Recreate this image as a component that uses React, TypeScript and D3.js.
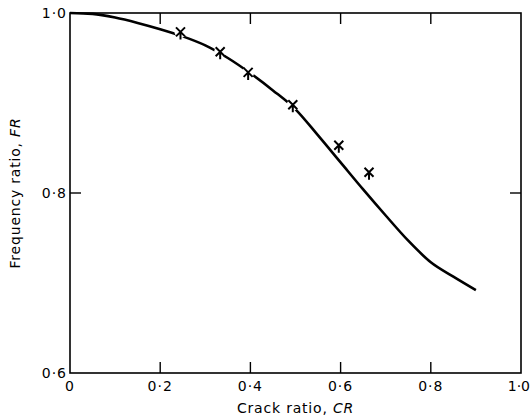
import React, { useEffect, useRef } from 'react';
import * as d3 from 'd3';

// fitted curve, frequency ratio vs crack ratio
const curveCR = [0, 0.05, 0.1, 0.15, 0.2, 0.25, 0.3, 0.35, 0.4, 0.45, 0.5, 0.55, 0.6, 0.65, 0.7, 0.75, 0.8, 0.85, 0.9];
const curveFR = [1.0, 0.999, 0.995, 0.989, 0.982, 0.974, 0.964, 0.950, 0.933, 0.914, 0.893, 0.864, 0.834, 0.804, 0.775, 0.747, 0.723, 0.707, 0.692];

// measured points
const pointCR = [0.245, 0.333, 0.395, 0.494, 0.596, 0.663];
const pointFR = [0.979, 0.957, 0.934, 0.898, 0.853, 0.823];

const xTicks = [0, 0.2, 0.4, 0.6, 0.8, 1.0];
const xTickLabels = ['0', '0·2', '0·4', '0·6', '0·8', '1·0'];
const yTicks = [0.6, 0.8, 1.0];
const yTickLabels = ['0·6', '0·8', '1·0'];

export default function App() {
  const svgRef = useRef<SVGSVGElement>(null);

  useEffect(() => {
    const width = 531;
    const height = 420;
    const margin = { top: 13, right: 10, bottom: 47, left: 70 };
    const font = '"DejaVu Sans", sans-serif';

    d3.select(svgRef.current).selectAll('*').remove();

    const svg = d3.select(svgRef.current)
      .attr('width', width)
      .attr('height', height);

    const x = d3.scaleLinear().domain([0, 1]).range([margin.left, width - margin.right]);
    const y = d3.scaleLinear().domain([0.6, 1.0]).range([height - margin.bottom, margin.top]);

    const x0 = x(0), x1 = x(1), y0 = y(0.6), y1 = y(1.0);
    const tickLen = 11;

    // frame
    svg.append('rect')
      .attr('x', x0)
      .attr('y', y1)
      .attr('width', x1 - x0)
      .attr('height', y0 - y1)
      .attr('fill', 'none')
      .attr('stroke', '#000')
      .attr('stroke-width', 1.6);

    // inward ticks, top and bottom
    const inner = xTicks.filter(d => d > 0 && d < 1);
    inner.forEach(d => {
      svg.append('line')
        .attr('x1', x(d)).attr('x2', x(d))
        .attr('y1', y0).attr('y2', y0 - tickLen)
        .attr('stroke', '#000').attr('stroke-width', 1.4);
      svg.append('line')
        .attr('x1', x(d)).attr('x2', x(d))
        .attr('y1', y1).attr('y2', y1 + tickLen)
        .attr('stroke', '#000').attr('stroke-width', 1.4);
    });

    // inward ticks, left and right
    yTicks.filter(d => d > 0.6 && d < 1.0).forEach(d => {
      svg.append('line')
        .attr('x1', x0).attr('x2', x0 + tickLen)
        .attr('y1', y(d)).attr('y2', y(d))
        .attr('stroke', '#000').attr('stroke-width', 1.4);
      svg.append('line')
        .attr('x1', x1).attr('x2', x1 - tickLen)
        .attr('y1', y(d)).attr('y2', y(d))
        .attr('stroke', '#000').attr('stroke-width', 1.4);
    });

    // tick labels (last one kept inside the picture)
    svg.selectAll('.xlab')
      .data(xTicks)
      .enter()
      .append('text')
      .attr('class', 'xlab')
      .attr('x', d => (d === 1 ? width - 1 : x(d)))
      .attr('y', y0 + 18)
      .attr('text-anchor', d => (d === 1 ? 'end' : 'middle'))
      .style('font-family', font)
      .style('font-size', '14px')
      .style('letter-spacing', d => (d === 1 ? '0px' : '1px'))
      .text((d, i) => xTickLabels[i]);

    svg.selectAll('.ylab')
      .data(yTicks)
      .enter()
      .append('text')
      .attr('class', 'ylab')
      .attr('x', x0 - 3)
      .attr('y', d => y(d) + 5)
      .attr('text-anchor', 'end')
      .style('font-family', font)
      .style('font-size', '14px')
      .style('letter-spacing', '1px')
      .text((d, i) => yTickLabels[i]);

    // axis titles
    const xt = svg.append('text')
      .attr('x', (x0 + x1) / 2)
      .attr('y', y0 + 40)
      .attr('text-anchor', 'middle')
      .style('font-family', font)
      .style('font-size', '14px')
      .style('letter-spacing', '0.8px');
    xt.append('tspan').text('Crack ratio, ');
    xt.append('tspan').style('font-style', 'italic').text('CR');

    const yt = svg.append('text')
      .attr('transform', `translate(20,${(y0 + y1) / 2}) rotate(-90)`)
      .attr('text-anchor', 'middle')
      .style('font-family', font)
      .style('font-size', '14px')
      .style('letter-spacing', '0.8px');
    yt.append('tspan').text('Frequency ratio, ');
    yt.append('tspan').style('font-style', 'italic').text('FR');

    // curve
    const curveData = curveCR.map((c, i) => ({ cr: c, fr: curveFR[i] }));
    const line = d3.line<{ cr: number; fr: number }>()
      .x(d => x(d.cr))
      .y(d => y(d.fr))
      .curve(d3.curveMonotoneX);

    svg.append('path')
      .datum(curveData)
      .attr('fill', 'none')
      .attr('stroke', '#000')
      .attr('stroke-width', 2.6)
      .attr('d', line);

    // measured points, with a white gap where they sit on the line
    const points = pointCR.map((c, i) => ({ cr: c, fr: pointFR[i] }));

    svg.selectAll('.halo')
      .data(points)
      .enter()
      .append('circle')
      .attr('class', 'halo')
      .attr('cx', d => x(d.cr))
      .attr('cy', d => y(d.fr))
      .attr('r', 6)
      .attr('fill', '#fff');

    const s = 4.5;
    svg.selectAll('.pt')
      .data(points)
      .enter()
      .append('path')
      .attr('class', 'pt')
      .attr('transform', d => `translate(${x(d.cr)},${y(d.fr)})`)
      .attr('d', `M${-s},${-s}L${s},${s}M${s},${-s}L${-s},${s}M0,${-1}L0,${s + 3}`)
      .attr('fill', 'none')
      .attr('stroke', '#000')
      .attr('stroke-width', 2);
  }, []);

  return (
    <svg ref={svgRef} style={{ position: 'absolute', left: 0, top: 0, background: '#fff' }}></svg>
  );
}
